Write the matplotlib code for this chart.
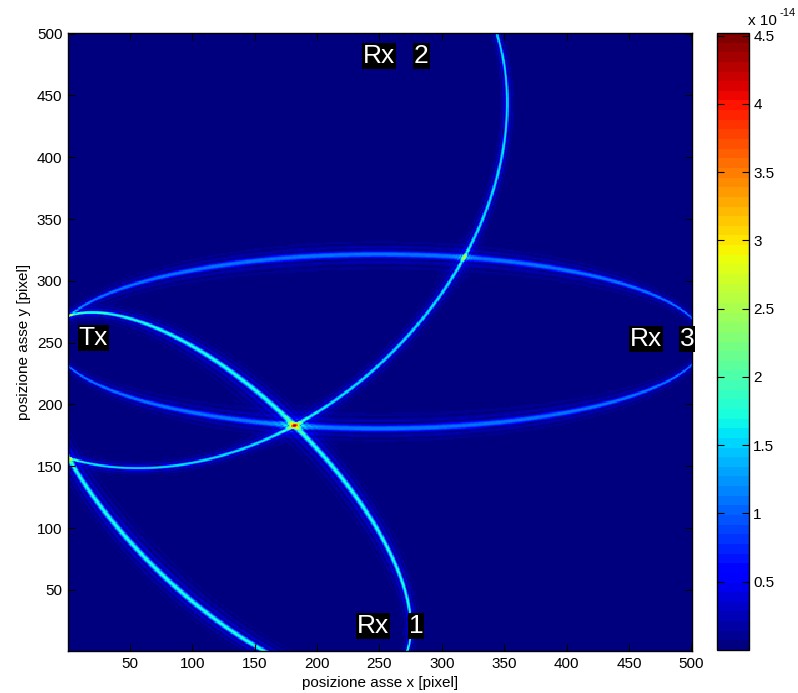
import numpy as np
import matplotlib
matplotlib.use("Agg")
import matplotlib.pyplot as plt
from matplotlib.ticker import FuncFormatter

# --- scene: transmitter, receivers and the target (pixel coordinates) ---
tx_pos = (0.0, 251.0)
rx_x = [252.0, 250.0, 500.0]
rx_y = [0.0, 500.0, 251.0]
rx_labels = ["1", "2", "3"]
target_pos = (182.0, 183.0)
ridge_peak = [1.78e-14, 1.62e-14, 1.12e-14]   # peak of each bistatic-range ridge
range_res = [2.9, 3.5, 2.3]                   # bistatic range resolution [pixel]

# label anchors (data coords): "Rx" word, receiver number
rx_word_x = [231.8, 236.6, 450.6]
rx_num_x = [273.5, 277.5, 490.7]
rx_text_y = [20.5, 481.6, 252.7]
tx_text_xy = (9.1, 253.5)

x_ticks = [50, 100, 150, 200, 250, 300, 350, 400, 450, 500]
y_ticks = [50, 100, 150, 200, 250, 300, 350, 400, 450, 500]
cbar_ticks = [0.5, 1, 1.5, 2, 2.5, 3, 3.5, 4, 4.5]

# --- ellipse likelihood map ---
n = 500
xs = np.arange(1, n + 1, dtype=float)
ys = np.arange(1, n + 1, dtype=float)
X, Y = np.meshgrid(xs, ys)

def dist(px, py, qx, qy):
    return np.hypot(px - qx, py - qy)

d_tx = dist(X, Y, *tx_pos)
t_tx = dist(*target_pos, *tx_pos)
Z = np.zeros_like(X)
for rxx, rxy, amp, res in zip(rx_x, rx_y, ridge_peak, range_res):
    bistatic = t_tx + dist(*target_pos, rxx, rxy)
    delta = d_tx + dist(X, Y, rxx, rxy) - bistatic
    u = delta / res
    Z += amp * np.abs(np.sinc(u)) * np.exp(-(u / 4.0) ** 2)

# --- figure ---
plt.rcParams["font.family"] = ["Liberation Sans", "DejaVu Sans"]
W, H = 798, 693
fig = plt.figure(figsize=(W / 100, H / 100), dpi=100)
ax = fig.add_axes([68 / W, 1 - 651 / H, 624 / W, 618 / H])

cmap = plt.get_cmap("jet", 64)
im = ax.imshow(Z, origin="lower", extent=(0.5, n + 0.5, 0.5, n + 0.5),
               cmap=cmap, vmin=Z.min(), vmax=Z.max(),
               aspect="auto", interpolation="nearest")

ax.set_xticks(x_ticks)
ax.set_yticks(y_ticks)
ax.tick_params(direction="in", top=True, right=True, length=5, width=0.8,
               labelsize=11, pad=4)
for sp in ax.spines.values():
    sp.set_linewidth(1.0)
ax.set_xlabel("posizione asse x [pixel]", fontsize=11, labelpad=4)
ax.set_ylabel("posizione asse y [pixel]", fontsize=11, labelpad=4)

box = dict(boxstyle="square,pad=0.04", fc="black", ec="none")
txt_kw = dict(color="white", fontsize=19, ha="left", va="center", bbox=box)
ax.text(tx_text_xy[0], tx_text_xy[1], "Tx", **txt_kw)
for wx, nx, ty, lab in zip(rx_word_x, rx_num_x, rx_text_y, rx_labels):
    ax.text(wx, ty, "Rx", **txt_kw)
    ax.text(nx, ty, lab, clip_on=False, **txt_kw)

# --- colorbar ---
cax = fig.add_axes([717 / W, 1 - 650 / H, 32 / W, 617 / H])
cb = fig.colorbar(im, cax=cax)
cb.set_ticks([t * 1e-14 for t in cbar_ticks])
cb.ax.yaxis.set_major_formatter(FuncFormatter(lambda v, p: f"{v / 1e-14:g}"))
cb.ax.tick_params(direction="in", left=True, right=True, length=5, width=0.8,
                  labelsize=11, pad=3)
cb.outline.set_linewidth(1.0)
fig.text(748 / W, 1 - 21 / H, "x 10", fontsize=11, ha="left", va="center")
fig.text(780 / W, 1 - 13 / H, "-14", fontsize=8, ha="left", va="center")

fig.savefig("out.png", dpi=100)
